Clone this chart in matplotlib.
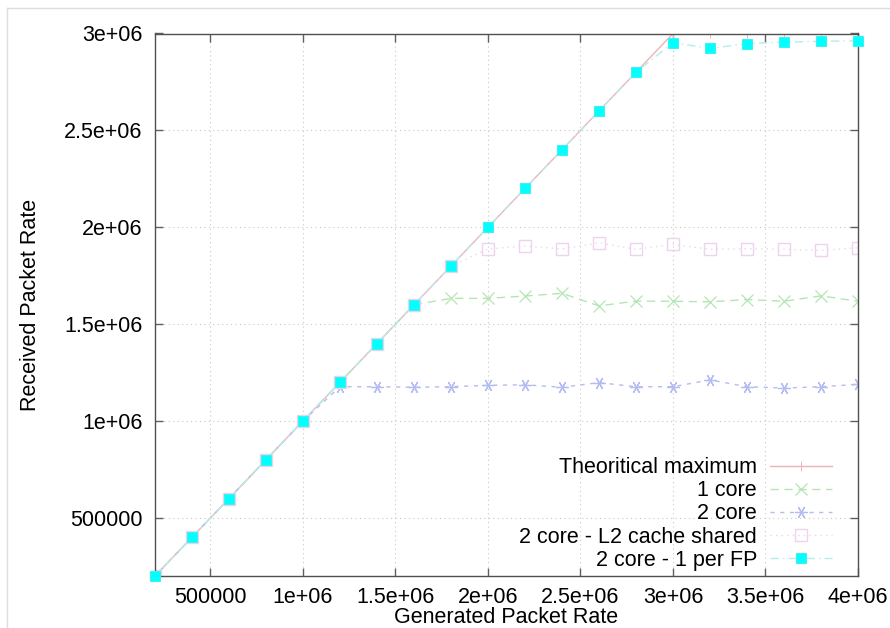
import matplotlib
matplotlib.use('Agg')
from matplotlib import pyplot as plt
from matplotlib.ticker import FuncFormatter, FixedLocator
from matplotlib.lines import Line2D

plt.rcParams['font.family'] = ['Liberation Sans', 'DejaVu Sans']

# generated packet rate (x)
gen_rate = [200000, 400000, 600000, 800000, 1000000, 1200000, 1400000, 1600000,
            1800000, 2000000, 2200000, 2400000, 2600000, 2800000, 3000000,
            3200000, 3400000, 3600000, 3800000, 4000000]

# received packet rate for each setup
theoretical = [200000, 400000, 600000, 800000, 1000000, 1200000, 1400000, 1600000,
               1800000, 2000000, 2200000, 2400000, 2600000, 2800000, 3000000,
               3000000, 3000000, 3000000, 3000000, 3000000]
one_core = [200000, 400000, 600000, 800000, 1000000, 1200000, 1400000, 1600000,
            1633000, 1633000, 1645000, 1659000, 1594000, 1619000, 1618000,
            1615000, 1627000, 1618000, 1646000, 1618000]
two_core = [200000, 400000, 600000, 800000, 1000000, 1177000, 1177000, 1174000,
            1177000, 1184000, 1187000, 1174000, 1198000, 1177000, 1177000,
            1212000, 1177000, 1170000, 1177000, 1189000]
two_core_l2 = [200000, 400000, 600000, 800000, 1000000, 1200000, 1400000, 1600000,
               1800000, 1888000, 1903000, 1888000, 1920000, 1886000, 1912000,
               1886000, 1889000, 1886000, 1880000, 1894000]
two_core_fp = [200000, 400000, 600000, 800000, 1000000, 1200000, 1400000, 1600000,
               1800000, 2000000, 2200000, 2400000, 2600000, 2800000, 2953000,
               2923000, 2948000, 2955000, 2960000, 2962000]

xticks = [500000, 1000000, 1500000, 2000000, 2500000, 3000000, 3500000, 4000000]
yticks = [500000, 1000000, 1500000, 2000000, 2500000, 3000000]

fs = 15.5

fig = plt.figure(figsize=(8.9, 6.28), dpi=100)
ax = fig.add_axes([155 / 890, 1 - 576 / 628, 703 / 890, 542.5 / 628])

ax.plot(gen_rate, theoretical, color='#eeb4b4', lw=1.0, ls='-',
        marker='+', ms=7, mew=0.7, label='Theoritical maximum')
ax.plot(gen_rate, one_core, color='#b4e6b4', lw=1.0, ls=(0, (6, 4)),
        marker='x', ms=8, mew=0.9, label='1 core')
ax.plot(gen_rate, two_core, color='#b4bcf2', lw=1.0, ls=(0, (3, 4)),
        marker=(6, 2, 90), ms=9, mew=0.9, label='2 core')
ax.plot(gen_rate, two_core_l2, color='#ecd4ec', lw=1.0, ls=(0, (1, 3)),
        marker='s', ms=8, mfc='none', mew=1.0, label='2 core - L2 cache shared')
ax.plot(gen_rate, two_core_fp, color='#b4ecec', lw=1.0, ls=(0, (6, 3, 1, 3)),
        marker='s', ms=7.5, mfc='#00ffff', mec='#40f0f0', mew=0.8,
        label='2 core - 1 per FP', clip_on=False, zorder=5)

ax.set_xlim(200000, 4000000)
ax.set_ylim(200000, 3000000)
ax.xaxis.set_major_locator(FixedLocator(xticks))
ax.yaxis.set_major_locator(FixedLocator(yticks))
fmt = FuncFormatter(lambda v, p: '%g' % v)
ax.xaxis.set_major_formatter(fmt)
ax.yaxis.set_major_formatter(fmt)
ax.tick_params(direction='in', length=6, width=1, color='#606060',
               top=True, right=True, labelsize=fs)
ax.tick_params(axis='y', pad=9)
ax.tick_params(axis='x', pad=8)
ax.grid(True, ls=(0, (1, 3)), color='#c8c8c8', lw=0.8)
for s in ax.spines.values():
    s.set_color('#505050')
    s.set_linewidth(1.0)

ax.set_xlabel('Generated Packet Rate', fontsize=fs, labelpad=-1)
ax.set_ylabel('Received Packet Rate', fontsize=fs, labelpad=17)

leg = ax.legend(loc='lower right', bbox_to_anchor=(0.985, -0.018), frameon=False,
                markerfirst=False, fontsize=fs, labelspacing=0.1,
                handlelength=2.9, handletextpad=0.6, borderpad=0.2)

# light frame around the picture
fig.add_artist(Line2D([7 / 890, 1], [1 - 8 / 628, 1 - 8 / 628], color='#dddddd', lw=1))
fig.add_artist(Line2D([7 / 890, 7 / 890], [0, 1 - 8 / 628], color='#dddddd', lw=1))

fig.savefig('out.png', dpi=100)
